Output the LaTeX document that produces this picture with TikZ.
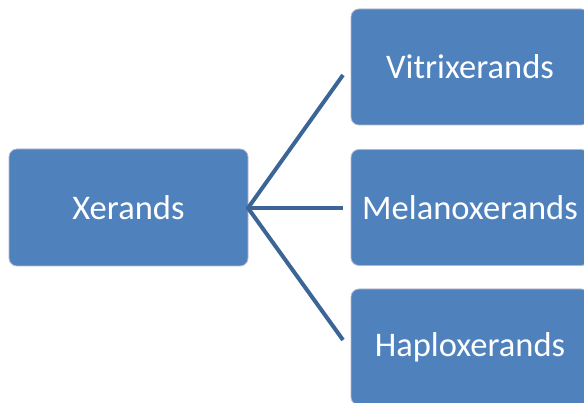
\documentclass[tikz,border=0pt]{standalone}
\usepackage{fontspec}
\setmainfont{Carlito}
\begin{document}
\begin{tikzpicture}[x=1pt,y=-1pt,
  box/.style={draw=white!85!blue!60!gray, line width=0.8pt, fill=boxblue, rounded corners=8pt, text=white, font=\fontsize{34.5}{40}\selectfont},
  conn/.style={draw=lineblue, line width=4pt}]
\definecolor{boxblue}{HTML}{4F81BD}
\definecolor{lineblue}{HTML}{3C6597}
\useasboundingbox (0,0) rectangle (584,403);
\clip (0,0) rectangle (584,403);
\node[box, minimum width=239pt, minimum height=117pt] (x) at (128.5,207.5) {Xerands};
\node[box, minimum width=238pt, minimum height=116pt] (v) at (470,67) {Vitrixerands};
\node[box, minimum width=238pt, minimum height=116pt] (m) at (470,207.5) {Melanoxerands};
\node[box, minimum width=238pt, minimum height=116pt] (h) at (470,347) {Haploxerands};
\coordinate (j) at (248,208);
\coordinate (t1) at (343,75);
\coordinate (t2) at (343,208);
\coordinate (t3) at (343,340);
\draw[conn] (t1) -- (j) -- (t3);
\draw[conn] (j) -- (t2);
\end{tikzpicture}
\end{document}
